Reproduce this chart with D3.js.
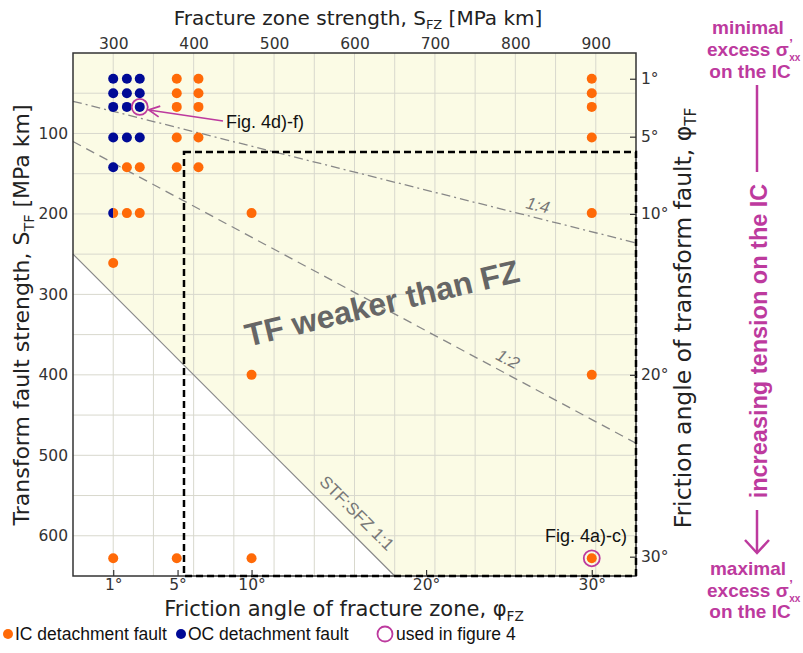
<!DOCTYPE html>
<html>
<head>
<meta charset="utf-8">
<script src="https://cdn.jsdelivr.net/npm/d3@7"></script>
<style>
  body { margin: 0; background: #fff; }
  svg { display: block; }
</style>
</head>
<body>
<div id="chart"></div>
<script>
(function(){

    // --- data ---
    var fzTicks = [300, 400, 500, 600, 700, 800, 900];           // S_FZ [MPa km], top axis
    var tfTicks = [100, 200, 300, 400, 500, 600];                // S_TF [MPa km], left axis
    var phiFzLabels = ["1°", "5°", "10°", "20°", "30°"];         // bottom axis
    var phiFzAt = [300, 380, 472, 689, 895];                     // their S_FZ position
    var phiTfLabels = ["1°", "5°", "10°", "20°", "30°"];         // right axis
    var phiTfAt = [32, 104, 200, 400, 626];                      // their S_TF position

    // IC detachment fault runs (orange), [S_FZ, S_TF]
    var icRuns = [
        [379, 32], [406, 32], [895, 32],
        [379, 50], [406, 50], [895, 50],
        [379, 67], [406, 67], [895, 67],
        [379, 105], [406, 105], [895, 105],
        [317, 142], [333, 142], [379, 142], [406, 142],
        [317, 199], [333, 199], [472, 199], [895, 199],
        [300, 261],
        [472, 400], [895, 400],
        [300, 628], [379, 628], [472, 628], [895, 628]
    ];
    // OC detachment fault runs (blue)
    var ocRuns = [
        [300, 32], [317, 32], [333, 32],
        [300, 50], [317, 50], [333, 50],
        [300, 67], [317, 67], [333, 67],
        [300, 105], [317, 105], [333, 105],
        [300, 142]
    ];
    // mixed run (half OC, half IC)
    var mixedRuns = [[300, 199]];
    // runs used in figure 4
    var fig4Runs = [[333, 67], [895, 628]];

    // strength ratio lines S_TF : S_FZ
    var ratio11 = [[250, 250], [650, 650]];
    var ratio12 = [[250, 110], [950, 485]];
    var ratio14 = [[250, 60], [950, 236]];
    // box of weak TF / strong FZ runs
    var boxCorner = [388, 123];

    var orange = "#ff6a08", navy = "#000a96", magenta = "#bd3a9e";

    var svg = d3.select("#chart").append("svg").attr("width", 803).attr("height", 653);

    var x = d3.scaleLinear().domain([250, 950]).range([73, 636]);
    var y = d3.scaleLinear().domain([0, 650]).range([53, 576]);

    var line = d3.line().x(function(d){ return x(d[0]); }).y(function(d){ return y(d[1]); });

    // background: TF weaker than FZ
    svg.append("path")
        .attr("d", line([[250, 0], [950, 0], [950, 650], [650, 650], [250, 250]]) + "Z")
        .attr("fill", "#fbfbe5");

    // grid
    var grid = svg.append("g").attr("stroke", "#d8d8cd").attr("stroke-width", 1);
    d3.range(300, 950, 50).forEach(function(v){
        grid.append("line").attr("x1", x(v)).attr("x2", x(v)).attr("y1", y(0)).attr("y2", y(650));
    });
    d3.range(50, 650, 50).forEach(function(v){
        grid.append("line").attr("x1", x(250)).attr("x2", x(950)).attr("y1", y(v)).attr("y2", y(v));
    });

    svg.append("path").attr("d", line(ratio11)).attr("stroke", "#888").attr("stroke-width", 1.2).attr("fill", "none");
    svg.append("path").attr("d", line(ratio12)).attr("stroke", "#888").attr("stroke-width", 1.3)
        .attr("stroke-dasharray", "9,6").attr("fill", "none");
    svg.append("path").attr("d", line(ratio14)).attr("stroke", "#888").attr("stroke-width", 1.3)
        .attr("stroke-dasharray", "9,4,2,4").attr("fill", "none");

    function angle(seg){
        return Math.atan2(y(seg[1][1]) - y(seg[0][1]), x(seg[1][0]) - x(seg[0][0])) * 180 / Math.PI;
    }
    function lineLabel(txt, cx, cy, rot, italic){
        svg.append("text").attr("transform", "translate(" + cx + "," + cy + ") rotate(" + rot + ")")
            .attr("text-anchor", "middle").attr("dy", "0.35em")
            .attr("font-family", "Liberation Sans, Arial, sans-serif").attr("font-size", 17)
            .attr("font-style", italic ? "italic" : "normal")
            .attr("fill", "#777").text(txt);
    }
    lineLabel("1:4", 538, 205, angle(ratio14), true);
    lineLabel("1:2", 508, 359, angle(ratio12), true);
    lineLabel("STF:SFZ 1:1", 357, 513, angle(ratio11), false);

    svg.append("text").attr("transform", "translate(382,303) rotate(-13.5)")
        .attr("text-anchor", "middle").attr("dy", "0.35em")
        .attr("font-family", "Liberation Sans, Arial, sans-serif").attr("font-weight", "bold")
        .attr("font-size", 32).attr("fill", "#666").text("TF weaker than FZ");

    // frame
    svg.append("rect").attr("x", x(250)).attr("y", y(0)).attr("width", x(950) - x(250)).attr("height", y(650) - y(0))
        .attr("fill", "none").attr("stroke", "#333").attr("stroke-width", 1.5);

    // dashed box
    svg.append("rect").attr("x", x(boxCorner[0])).attr("y", y(boxCorner[1]))
        .attr("width", x(950) - x(boxCorner[0])).attr("height", y(650) - y(boxCorner[1]))
        .attr("fill", "none").attr("stroke", "#000").attr("stroke-width", 2.5).attr("stroke-dasharray", "7,4");

    // axes
    var axisFont = "DejaVu Sans, Verdana, sans-serif";
    var top = svg.append("g").attr("transform", "translate(0," + y(0) + ")")
        .call(d3.axisTop(x).tickValues(fzTicks).tickSize(0).tickPadding(4));
    var left = svg.append("g").attr("transform", "translate(" + x(250) + ",0)")
        .call(d3.axisLeft(y).tickValues(tfTicks).tickSize(0).tickPadding(5));
    var fzAngle = d3.scaleOrdinal().domain(phiFzLabels).range(phiFzAt.map(x));
    var tfAngle = d3.scaleOrdinal().domain(phiTfLabels).range(phiTfAt.map(y));
    var bottom = svg.append("g").attr("transform", "translate(0," + y(650) + ")")
        .call(d3.axisBottom(fzAngle).tickSize(-6).tickPadding(3));
    var right = svg.append("g").attr("transform", "translate(" + x(950) + ",0)")
        .call(d3.axisRight(tfAngle).tickSize(-6).tickPadding(5));
    [top, left, bottom, right].forEach(function(g){
        g.select(".domain").remove();
        g.selectAll("text").attr("font-family", axisFont).attr("font-size", 15.5).attr("fill", "#333");
        g.selectAll("line").attr("stroke", "#333").attr("stroke-width", 1.2);
    });

    // points
    var pts = svg.append("g");
    pts.selectAll(".ic").data(icRuns).enter().append("circle")
        .attr("cx", function(d){ return x(d[0]); }).attr("cy", function(d){ return y(d[1]); })
        .attr("r", 5).attr("fill", orange);
    pts.selectAll(".oc").data(ocRuns).enter().append("circle")
        .attr("cx", function(d){ return x(d[0]); }).attr("cy", function(d){ return y(d[1]); })
        .attr("r", 5).attr("fill", navy);
    mixedRuns.forEach(function(d){
        var cx = x(d[0]), cy = y(d[1]);
        pts.append("path").attr("d", "M" + cx + "," + (cy - 5) + "A5,5 0 0,0 " + cx + "," + (cy + 5) + "Z").attr("fill", navy);
        pts.append("path").attr("d", "M" + cx + "," + (cy - 5) + "A5,5 0 0,1 " + cx + "," + (cy + 5) + "Z").attr("fill", orange);
    });
    pts.selectAll(".f4").data(fig4Runs).enter().append("circle")
        .attr("cx", function(d){ return x(d[0]); }).attr("cy", function(d){ return y(d[1]); })
        .attr("r", 8).attr("fill", "none").attr("stroke", magenta).attr("stroke-width", 1.8);

    // figure annotations
    var lab = "Liberation Sans, Arial, sans-serif";
    svg.append("defs").append("marker").attr("id", "ah").attr("viewBox", "0 0 10 10")
        .attr("refX", 9).attr("refY", 5).attr("markerWidth", 9).attr("markerHeight", 9).attr("orient", "auto")
        .append("path").attr("d", "M1,1L9,5L1,9").attr("fill", "none").attr("stroke", magenta).attr("stroke-width", 1.3);
    svg.append("line").attr("x1", 223).attr("y1", 121).attr("x2", x(fig4Runs[0][0]) + 9).attr("y2", y(fig4Runs[0][1]) + 3)
        .attr("stroke", magenta).attr("stroke-width", 1.5).attr("marker-end", "url(#ah)");
    svg.append("text").attr("x", 226).attr("y", 128).attr("font-family", lab).attr("font-size", 18)
        .attr("fill", "#111").text("Fig. 4d)-f)");
    svg.append("text").attr("x", 586).attr("y", 542).attr("text-anchor", "middle").attr("font-family", lab).attr("font-size", 18)
        .attr("fill", "#111").text("Fig. 4a)-c)");

    // axis titles
    function title(t, sub, tail, tr, size){
        var el = svg.append("text").attr("transform", tr).attr("text-anchor", "middle")
            .attr("font-family", axisFont).attr("font-size", size).attr("fill", "#222");
        el.append("tspan").text(t);
        el.append("tspan").attr("font-size", size * 0.65).attr("dy", size * 0.22).text(sub);
        if (tail) el.append("tspan").attr("dy", -size * 0.22).text(tail);
    }
    title("Fracture zone strength, S", "FZ", " [MPa km]", "translate(358,25)", 20);
    title("Transform fault strength, S", "TF", " [MPa km]", "translate(29,315) rotate(-90)", 22);
    title("Friction angle of fracture zone, φ", "FZ", null, "translate(344,616)", 21);
    title("Friction angle of transform fault, φ", "TF", null, "translate(691,318) rotate(-90)", 23.5);

    // legend
    var leg = svg.append("g").attr("font-family", lab).attr("font-size", 17.5).attr("fill", "#111");
    leg.append("circle").attr("cx", 8).attr("cy", 634).attr("r", 5).attr("fill", orange);
    leg.append("text").attr("x", 15).attr("y", 640).text("IC detachment fault");
    leg.append("circle").attr("cx", 181).attr("cy", 634).attr("r", 5).attr("fill", navy);
    leg.append("text").attr("x", 188).attr("y", 640).text("OC detachment fault");
    leg.append("circle").attr("cx", 385).attr("cy", 634).attr("r", 7.5).attr("fill", "none").attr("stroke", magenta).attr("stroke-width", 1.8);
    leg.append("text").attr("x", 396).attr("y", 640).text("used in figure 4");

    // tension annotation
    var ann = svg.append("g").attr("font-family", lab).attr("font-weight", "bold").attr("font-size", 19)
        .attr("fill", magenta);
    function sigmaLine(yy){
        var t = ann.append("text").attr("x", 707).attr("y", yy).text("excess σ");
        var end = 707 + t.node().getComputedTextLength();
        ann.append("text").attr("x", end + 0.5).attr("y", yy - 8).attr("font-size", 13).text("’");
        ann.append("text").attr("x", end + 0.5).attr("y", yy + 5).attr("font-size", 10).text("xx");
    }
    ann.append("text").attr("x", 748).attr("y", 34).attr("text-anchor", "middle").text("minimal");
    sigmaLine(56);
    ann.append("text").attr("x", 750).attr("y", 78).attr("text-anchor", "middle").text("on the IC");
    ann.append("text").attr("x", 748).attr("y", 575).attr("text-anchor", "middle").text("maximal");
    sigmaLine(597);
    ann.append("text").attr("x", 750).attr("y", 618).attr("text-anchor", "middle").text("on the IC");
    ann.append("line").attr("x1", 757).attr("x2", 757).attr("y1", 85).attr("y2", 172).attr("stroke", magenta).attr("stroke-width", 2.5);
    ann.append("line").attr("x1", 757).attr("x2", 757).attr("y1", 510).attr("y2", 553).attr("stroke", magenta).attr("stroke-width", 2.5);
    ann.append("path").attr("d", "M745,540L757,553L769,540").attr("fill", "none").attr("stroke", magenta).attr("stroke-width", 2.5);
    ann.append("text").attr("transform", "translate(759,341) rotate(-90)").attr("dy", "0.35em")
        .attr("text-anchor", "middle").attr("font-size", 23.5).text("increasing tension on the IC");

})();
</script>
</body>
</html>
